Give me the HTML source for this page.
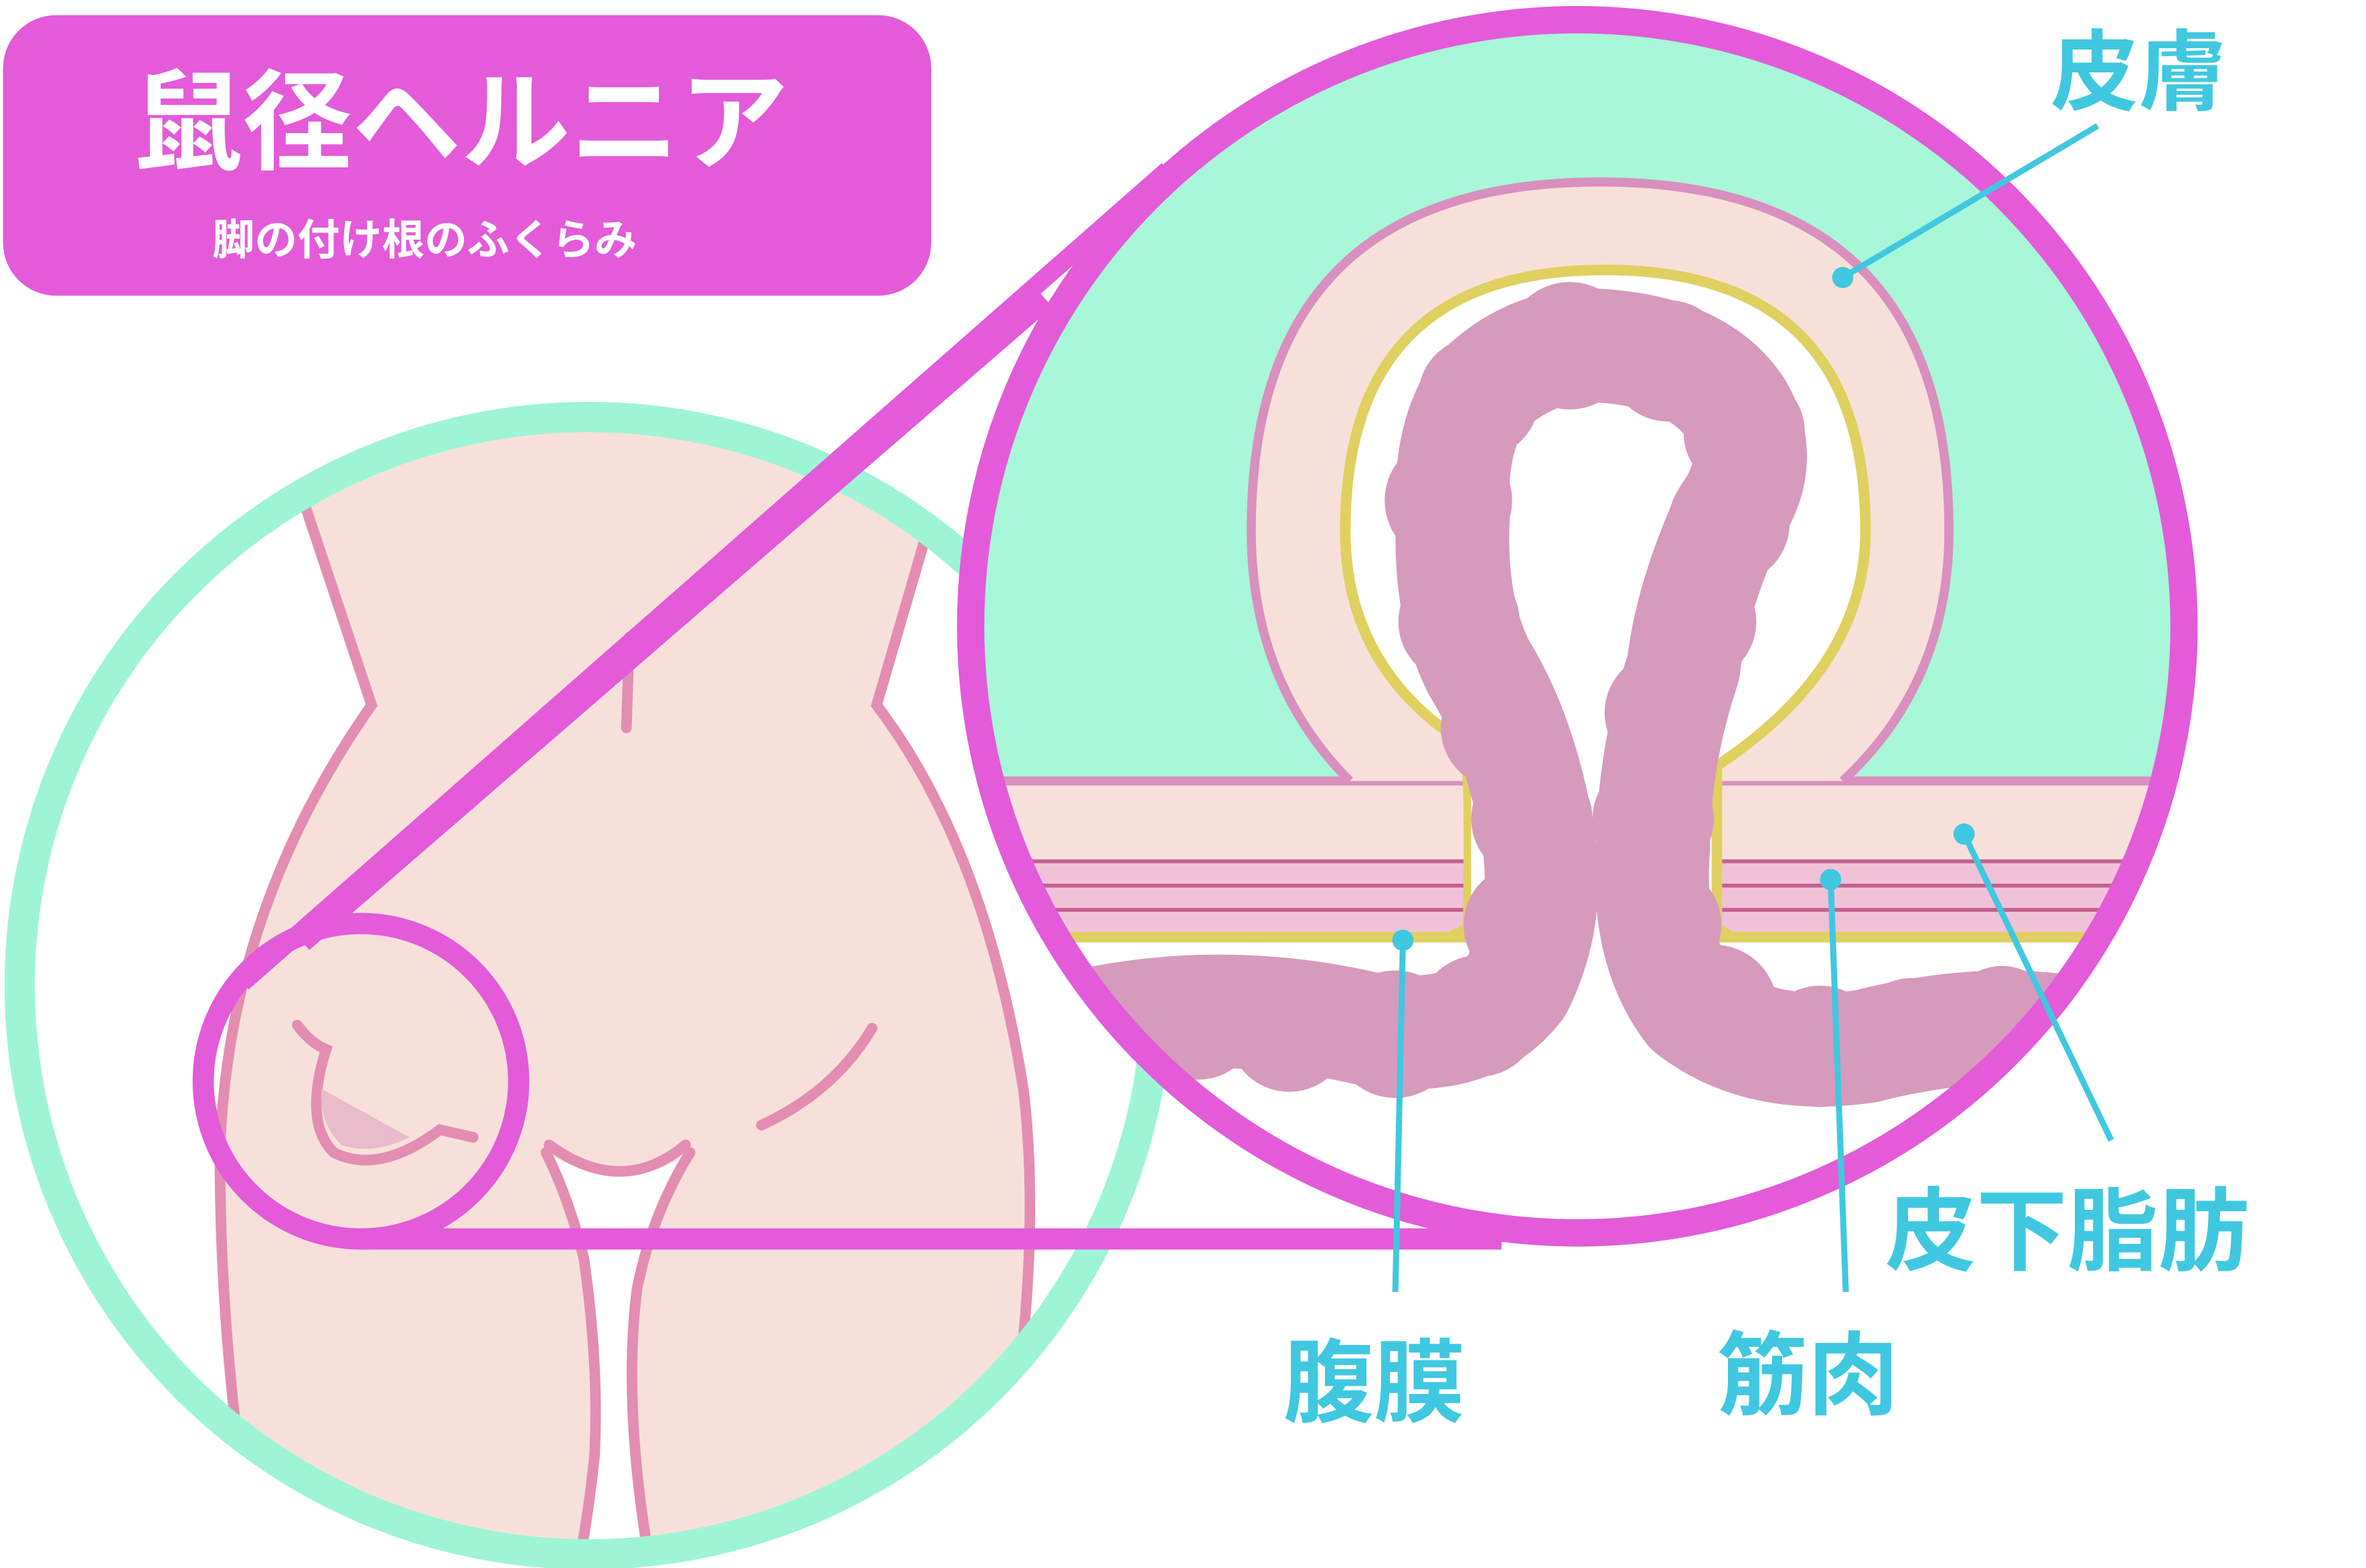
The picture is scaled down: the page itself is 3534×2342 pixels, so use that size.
<!DOCTYPE html>
<html><head><meta charset="utf-8"><style>
html,body{margin:0;padding:0;background:#fff;}
svg{display:block;}
text{font-family:"Liberation Sans","Noto Sans CJK JP",sans-serif;font-weight:bold;}
</style></head><body>
<svg width="3534" height="2342" viewBox="0 0 1560 1034" preserveAspectRatio="none" xmlns="http://www.w3.org/2000/svg">
<defs>
<clipPath id="cL"><circle cx="388" cy="650" r="375"/></clipPath>
<clipPath id="cR"><circle cx="1040" cy="413" r="400"/></clipPath>
</defs>
<rect width="1560" height="1034" fill="#fff"/>
<!-- title -->
<rect x="2" y="10" width="612" height="185" rx="35" fill="#e35bd9"/>
<text x="88" y="106" font-size="72" fill="#fff">鼠径ヘルニア</text>
<text x="140" y="168" font-size="28" fill="#fff">脚の付け根のふくらみ</text>

<!-- left circle -->
<circle cx="388" cy="650" r="375" fill="#fff"/>
<g clip-path="url(#cL)">
<path d="M175,250 L200,330 L245,465 Q150,600 145,760 Q145,900 170,1040 L385,1040 Q395,900 380,820 Q370,790 360,760 Q410,790 455,760 Q420,820 415,900 Q418,980 430,1040 L650,1040 Q690,850 675,720 Q650,560 578,465 L610,355 L640,250 Z" fill="#f8e0da"/>
<g fill="none" stroke="#e38db3" stroke-width="7" stroke-linecap="round">
<path d="M190,300 L200,330 L245,465 Q150,600 145,760 Q145,900 170,1040"/>
<path d="M620,320 L610,355 L578,465 Q650,560 675,720 Q690,850 650,1040"/>
<path d="M360,760 Q375,790 385,830 Q395,900 392,960 Q388,1000 380,1040"/>
<path d="M455,760 Q430,800 420,850 Q410,930 430,1040"/>
<path d="M362,755 Q410,790 452,755"/>
<path d="M415,420 L413,480"/>
<path d="M575,678 Q550,720 502,742"/>
<path d="M196,676 Q205,688 215,692 Q200,740 220,760 Q250,775 290,745 L312,750"/>
</g>
<path d="M212,718 L270,750 Q245,762 225,755 Q210,740 212,718Z" fill="#e8bccb"/>
</g>
<circle cx="388" cy="650" r="375" fill="none" stroke="#9ef5d6" stroke-width="20"/>

<!-- connectors -->
<path d="M160,648 L770,112 M200,622 L690,198" stroke="#e35bd9" stroke-width="12" fill="none"/>
<circle cx="238" cy="713" r="104" fill="none" stroke="#e35bd9" stroke-width="14"/>
<line x1="238" y1="817" x2="990" y2="817" stroke="#e35bd9" stroke-width="14"/>

<!-- right circle -->
<circle cx="1040" cy="413" r="400" fill="#fff"/>
<g clip-path="url(#cR)">
<rect x="600" y="0" width="900" height="515" fill="#a8f7d8"/>
<rect x="600" y="515" width="900" height="52" fill="#f8e0da"/>
<rect x="600" y="567" width="900" height="50" fill="#f0c2d8"/>
<g stroke="#c2608f" stroke-width="2.5">
<line x1="600" y1="568" x2="1500" y2="568"/><line x1="600" y1="584" x2="1500" y2="584"/><line x1="600" y1="600" x2="1500" y2="600"/>
</g>
<line x1="600" y1="618" x2="1500" y2="618" stroke="#e0d060" stroke-width="7"/>
<line x1="600" y1="515" x2="1500" y2="515" stroke="#d98fbf" stroke-width="6"/>
<!-- dome -->
<path d="M890,515 Q825,450 825,350 Q825,120 1055,120 Q1285,120 1285,350 Q1285,450 1215,515 L1130,515 L1130,617 L965,617 L965,515 Z" fill="#f8e0da"/>
<path d="M890,515 Q825,450 825,350 Q825,120 1055,120 Q1285,120 1285,350 Q1285,450 1215,515" fill="none" stroke="#d98fbf" stroke-width="6"/>
<path d="M965,490 Q887,440 887,350 Q887,178 1058,178 Q1230,178 1230,350 Q1230,440 1132,505 L1132,612 L1140,617" fill="#fff" stroke="#e0d060" stroke-width="7"/>
<path d="M965,490 Q970,500 968,612 L958,617" fill="none" stroke="#e0d060" stroke-width="7"/>
<rect x="970" y="500" width="158" height="125" fill="#fff"/>
<!-- intestine -->
<g fill="#d69abc">
<path d="M700,680 Q800,655 900,678 Q970,690 1000,650 Q1025,600 1012,540 Q1000,480 975,440 Q955,400 958,340 Q955,290 975,260 Q1010,225 1055,228 Q1120,232 1145,270 Q1165,305 1140,340 Q1115,395 1110,440 Q1090,500 1090,560 Q1085,625 1115,665 Q1160,700 1230,690 Q1300,672 1360,680" fill="none" stroke="#d69abc" stroke-width="75" stroke-linecap="round" stroke-linejoin="round"/>
<circle cx="740" cy="680" r="38"/><circle cx="790" cy="672" r="40"/><circle cx="850" cy="680" r="40"/><circle cx="920" cy="682" r="42"/><circle cx="975" cy="670" r="40"/>
<circle cx="1005" cy="610" r="40"/><circle cx="1010" cy="540" r="40"/><circle cx="990" cy="480" r="40"/><circle cx="962" cy="410" r="40"/><circle cx="955" cy="330" r="42"/><circle cx="975" cy="262" r="40"/><circle cx="1035" cy="228" r="42"/><circle cx="1100" cy="238" r="40"/><circle cx="1150" cy="285" r="40"/><circle cx="1140" cy="345" r="40"/><circle cx="1118" cy="410" r="40"/><circle cx="1098" cy="470" r="40"/><circle cx="1090" cy="540" r="40"/><circle cx="1095" cy="610" r="40"/><circle cx="1130" cy="665" r="42"/><circle cx="1200" cy="690" r="40"/><circle cx="1260" cy="683" r="38"/><circle cx="1320" cy="675" r="38"/>
</g>
</g>
<circle cx="1040" cy="413" r="400" fill="none" stroke="#e35bd9" stroke-width="18"/>

<!-- labels -->
<g stroke="#40c8e0" stroke-width="4" fill="none">
<line x1="1215" y1="183" x2="1383" y2="83"/>
<line x1="1295" y1="550" x2="1392" y2="752"/>
<line x1="925" y1="620" x2="920" y2="852"/>
<line x1="1207" y1="580" x2="1217" y2="852"/>
</g>
<g fill="#40c8e0">
<circle cx="1215" cy="183" r="7"/><circle cx="1295" cy="550" r="7"/><circle cx="925" cy="620" r="7"/><circle cx="1207" cy="580" r="7"/>
</g>
<text x="1352" y="68" font-size="58" fill="#40c8e0">皮膚</text>
<text x="1243" y="833" font-size="60" fill="#40c8e0">皮下脂肪</text>
<text x="846" y="933" font-size="60" fill="#40c8e0">腹膜</text>
<text x="1132" y="928" font-size="60" fill="#40c8e0">筋肉</text>
</svg>
</body></html>
